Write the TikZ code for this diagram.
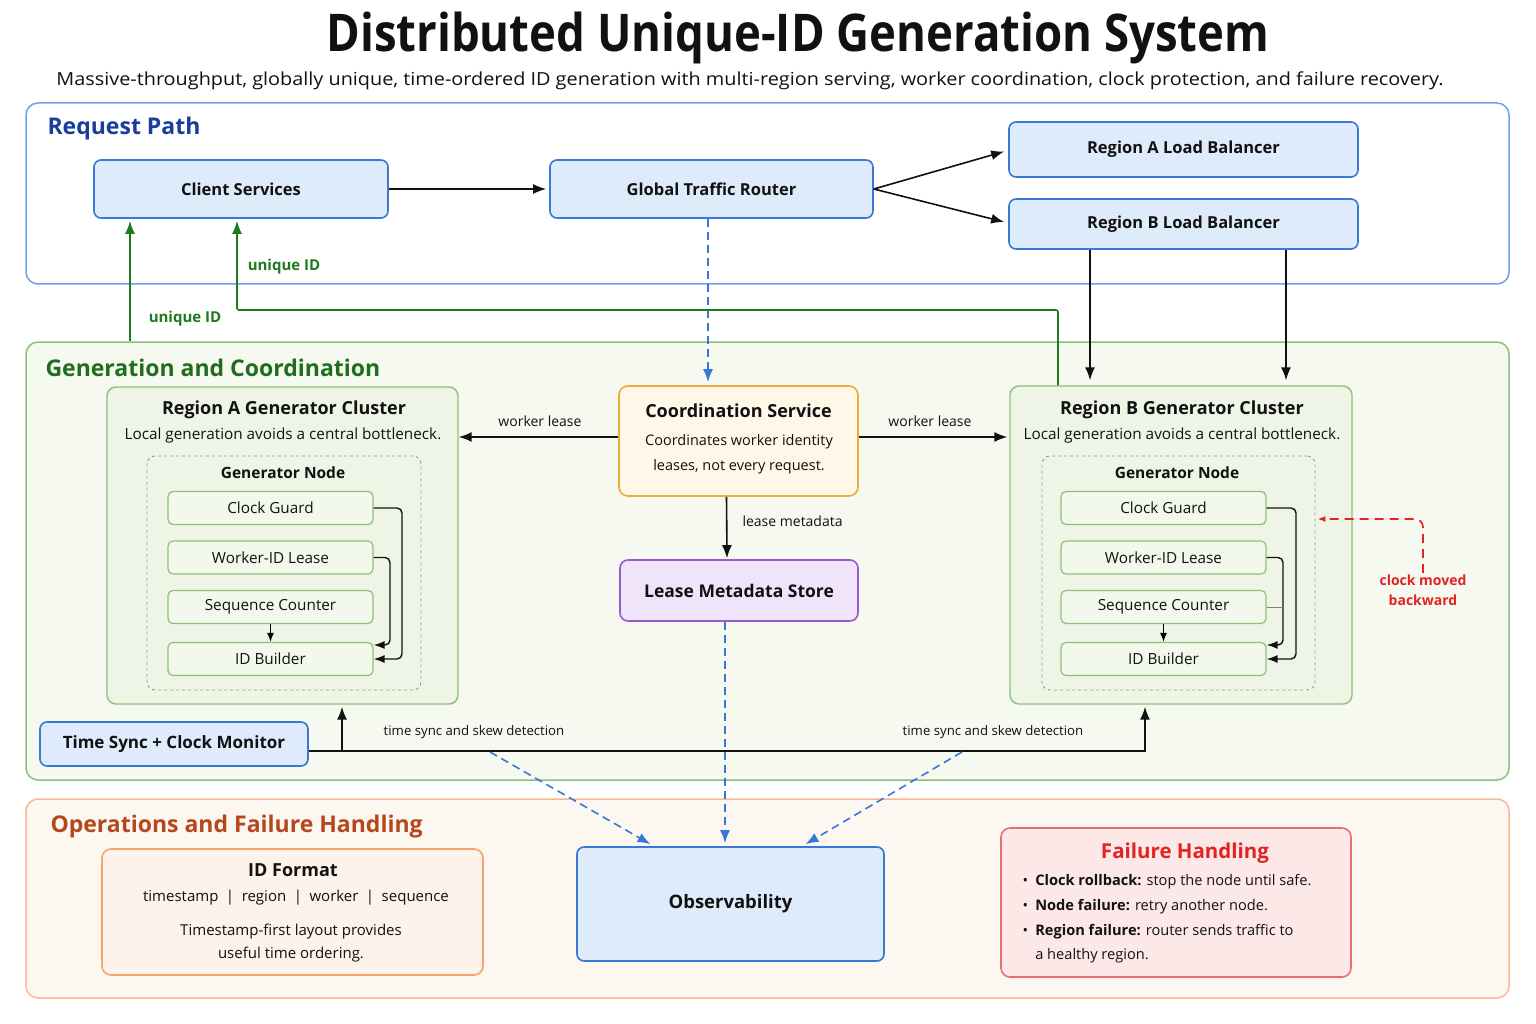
\documentclass[tikz,border=0pt]{standalone}
\usepackage{fontspec}
\setmainfont{Open Sans}
\usetikzlibrary{arrows.meta,calc}
\definecolor{bblue}{HTML}{3A78D6}
\definecolor{bfill}{HTML}{DEEBFB}
\definecolor{lblue}{HTML}{6F9FEA}
\definecolor{dblue}{HTML}{1A3D9C}
\definecolor{lgreen}{HTML}{8CC07A}
\definecolor{gfill}{HTML}{F5F9F0}
\definecolor{cfill}{HTML}{EEF5E7}
\definecolor{ifill}{HTML}{F2F8EC}
\definecolor{dgreen}{HTML}{1F6D1F}
\definecolor{agreen}{HTML}{1E7A1E}
\definecolor{oborder}{HTML}{F0A93A}
\definecolor{ofill}{HTML}{FFF7E8}
\definecolor{pborder}{HTML}{9B59D0}
\definecolor{pfill}{HTML}{F0E4FB}
\definecolor{opsborder}{HTML}{F7B994}
\definecolor{opsfill}{HTML}{FDF7F2}
\definecolor{idborder}{HTML}{F4A46A}
\definecolor{idfill}{HTML}{FDF3EA}
\definecolor{fborder}{HTML}{E8716C}
\definecolor{ffill}{HTML}{FDE8E8}
\definecolor{fred}{HTML}{E32222}
\definecolor{opstext}{HTML}{B4471C}
\definecolor{ink}{HTML}{111111}
\begin{document}
\begin{tikzpicture}[x=1pt,y=-1pt,
  every node/.style={text=ink},
  lane/.style={draw, rounded corners=12pt, line width=1.5pt},
  lanelabel/.style={anchor=west, font=\fontsize{23}{28}\selectfont\bfseries},
  bluebox/.style={draw=bblue, fill=bfill, rounded corners=7pt, line width=1.6pt, font=\fontsize{16.5}{20}\selectfont\bfseries},
  cluster/.style={draw=lgreen, fill=cfill, rounded corners=9pt, line width=1.4pt},
  gnode/.style={draw=gray!80, dashed, rounded corners=8pt, line width=0.9pt},
  inner/.style={draw=lgreen, fill=ifill, rounded corners=5pt, line width=1.2pt, minimum width=205, minimum height=33, font=\fontsize{15.3}{18}\selectfont},
  arr/.style={-{Latex[length=13pt,width=10pt]}, line width=1.6pt, draw=ink},
  sarr/.style={-{Latex[length=11pt,width=8pt]}, line width=1.4pt, draw=ink},
  bdash/.style={-{Latex[length=13pt,width=10pt]}, line width=1.6pt, draw=bblue, dash pattern=on 8pt off 5pt},
  garr/.style={-{Latex[length=13pt,width=10pt]}, line width=1.6pt, draw=agreen},
  small/.style={font=\fontsize{13.2}{15}\selectfont},
  lbl/.style={font=\fontsize{14}{17}\selectfont},
]
\useasboundingbox (0,0) rectangle (1536,1024);
\fill[white] (0,0) rectangle (1536,1024);

% title
\node (title) at (798,38) {\resizebox{943pt}{\height}{\fontsize{52}{60}\selectfont\bfseries Distributed Unique-ID Generation System}};
\node (subtitle) at (750,81) {\resizebox{1387pt}{\height}{\fontsize{18}{22}\selectfont Massive-throughput, globally unique, time-ordered ID generation with multi-region serving, worker coordination, clock protection, and failure recovery.}};

% lanes
\node[lane, draw=lblue, fill=white, minimum width=1483, minimum height=181] (reqlane) at (767.5,193.5) {};
\node[lanelabel, text=dblue] (reqlbl) at (44,129) {Request Path};
\node[lane, draw=lgreen, fill=gfill, minimum width=1483, minimum height=438] (genlane) at (767.5,561) {};
\node[lanelabel, text=dgreen] (genlbl) at (42,368) {Generation and Coordination};
\node[lane, draw=opsborder, fill=opsfill, minimum width=1483, minimum height=199] (opslane) at (767.5,898.5) {};
\node[lanelabel, text=opstext] (opslbl) at (47,827) {Operations and Failure Handling};

% request path
\node[bluebox, minimum width=294, minimum height=58] (client) at (241,189) {Client Services};
\node[bluebox, minimum width=323, minimum height=58] (router) at (711.5,189) {Global Traffic Router};
\node[bluebox, minimum width=349, minimum height=55] (lbA) at (1183.5,149.5) {Region A Load Balancer};
\node[bluebox, minimum width=349, minimum height=50] (lbB) at (1183.5,224) {Region B Load Balancer};

\draw[arr] (client.east) -- ([xshift=-3pt]router.west);
\draw[arr] (router.east) -- ([xshift=-4pt,yshift=-2pt]lbA.west);
\draw[arr] (router.east) -- ([xshift=-4pt,yshift=2pt]lbB.west);

% clusters
\node[cluster, minimum width=351, minimum height=317] (clA) at (282.5,545.5) {};
\node[font=\fontsize{18}{22}\selectfont\bfseries] (clAt) at (284,410) {Region A Generator Cluster};
\node[font=\fontsize{15.3}{18}\selectfont] (clAs) at (283,436) {Local generation avoids a central bottleneck.};
\node[gnode, minimum width=274, minimum height=234] (gnA) at (284,573) {};
\node[font=\fontsize{15.5}{19}\selectfont\bfseries] (gnAt) at (283,473) {Generator Node};
\node[inner] (cgA) at (270.5,508) {Clock Guard};
\node[inner] (wlA) at (270.5,557.5) {Worker-ID Lease};
\node[inner] (scA) at (270.5,607) {Sequence Counter};
\node[inner] (idA) at (270.5,659) {ID Builder};
\draw[sarr, rounded corners=5pt] (cgA.east) -- (402,508) -- (402,659) -- (idA.east);
\draw[sarr, rounded corners=5pt] (wlA.east) -- (390,557.5) -- (390,645) -- ([yshift=14pt]idA.east);
\draw[-{Latex[length=9pt,width=7pt]}, line width=1.2pt] (scA.south) -- (idA.north);

\node[cluster, minimum width=342, minimum height=318] (clB) at (1181,545) {};
\node[font=\fontsize{18}{22}\selectfont\bfseries] (clBt) at (1182,410) {Region B Generator Cluster};
\node[font=\fontsize{15.3}{18}\selectfont] (clBs) at (1182,436) {Local generation avoids a central bottleneck.};
\node[gnode, minimum width=273, minimum height=234] (gnB) at (1178.5,573) {};
\node[font=\fontsize{15.5}{19}\selectfont\bfseries] (gnBt) at (1177,473) {Generator Node};
\node[inner] (cgB) at (1163.5,508) {Clock Guard};
\node[inner] (wlB) at (1163.5,557.5) {Worker-ID Lease};
\node[inner] (scB) at (1163.5,607) {Sequence Counter};
\node[inner] (idB) at (1163.5,659) {ID Builder};
\draw[sarr, rounded corners=5pt] (cgB.east) -- (1296,508) -- (1296,659) -- (idB.east);
\draw[sarr, rounded corners=5pt] (wlB.east) -- (1283,557.5) -- (1283,645) -- ([yshift=14pt]idB.east);
\draw[line width=0.6pt, draw=gray] (scB.east) -- (1283,607);
\draw[-{Latex[length=9pt,width=7pt]}, line width=1.2pt] (scB.south) -- (idB.north);

% coordination
\node[draw=oborder, fill=ofill, rounded corners=9pt, line width=1.6pt, minimum width=239, minimum height=110] (coord) at (738.5,441) {};
\node[font=\fontsize{18}{22}\selectfont\bfseries] (coordt) at (738.5,411) {Coordination Service};
\node[font=\fontsize{14.5}{25}\selectfont, align=center] (coords) at (739,454) {Coordinates worker identity\\leases, not every request.};
\node[draw=pborder, fill=pfill, rounded corners=8pt, line width=1.6pt, minimum width=238, minimum height=61, font=\fontsize{17.5}{21}\selectfont\bfseries] (store) at (739,590.5) {Lease Metadata Store};

\draw[arr] ([xshift=-12pt]coord.south) -- ([xshift=-12pt,yshift=1pt]store.north);
\node[lbl, anchor=west] (lmlbl) at (739,521) {lease metadata};
\draw[arr] (coord.west |- 0,437) -- (clA.east |- 0,437);
\node[lbl] (wl1) at (540,421) {worker lease};
\draw[arr] (coord.east |- 0,437) -- ([xshift=-2pt]clB.west |- 0,437);
\node[lbl] (wl2) at (930,421) {worker lease};

\draw[bdash] (router.south -| 708,0) -- ([yshift=3pt]coord.north -| 708,0);

% LB B to cluster B
\draw[arr] (lbB.south -| 1090,0) -- ([yshift=5pt]clB.north -| 1090,0);
\draw[arr] (lbB.south -| 1286,0) -- ([yshift=5pt]clB.north -| 1286,0);

% unique id arrows
\coordinate (u1) at (130,341);
\draw[garr] (u1) -- ([yshift=-2pt]client.south -| u1);
\node[font=\fontsize{15}{18}\selectfont\bfseries, text=agreen] (ulbl1) at (185,319) {unique ID};
\draw[garr, rounded corners=2pt] (clB.north -| 1058,0) -- (1058,310) -- (237,310) -- ([yshift=-2pt]client.south -| 237,0);
\node[font=\fontsize{15}{18}\selectfont\bfseries, text=agreen] (ulbl2) at (284,267) {unique ID};

% time sync
\node[bluebox, minimum width=268, minimum height=44, font=\fontsize{17}{20}\selectfont\bfseries] (tsync) at (174,744) {Time Sync + Clock Monitor};
\draw[arr] ([yshift=-7pt]tsync.east) -- (1145,751) -- ([yshift=-2pt]clB.south -| 1145,0);
\draw[arr] (342,751) -- ([yshift=-2pt]clA.south -| 342,0);
\node[small] (ts1) at (474,732) {time sync and skew detection};
\node[small] (ts2) at (993,732) {time sync and skew detection};
\coordinate (tsl) at (490,752);
\coordinate (tsr) at (962,752);

% operations
\node[draw=idborder, fill=idfill, rounded corners=9pt, line width=1.6pt, minimum width=381, minimum height=126] (idfmt) at (292.5,912) {};
\node[font=\fontsize{18}{21}\selectfont\bfseries] (idft) at (293,870) {ID Format};
\node[font=\fontsize{15}{18}\selectfont] (idfl) at (296,898) {timestamp\enspace|\enspace region\enspace|\enspace worker\enspace|\enspace sequence};
\node[font=\fontsize{15}{23.5}\selectfont, align=center] (idfd) at (291,943) {Timestamp-first layout provides\\useful time ordering.};

\node[bluebox, minimum width=307, minimum height=114, font=\fontsize{18.5}{22}\selectfont\bfseries] (obs) at (730.5,904) {Observability};
\draw[bdash] (tsl) -- ([xshift=-80pt,yshift=2pt]obs.north);
\draw[bdash] (tsr) -- ([xshift=75pt,yshift=2pt]obs.north);
\draw[bdash] ([xshift=-14pt]store.south) -- ([xshift=-5.5pt,yshift=3pt]obs.north);

\node[draw=fborder, fill=ffill, rounded corners=9pt, line width=1.6pt, minimum width=350, minimum height=149] (fail) at (1176,902.5) {};
\node[font=\fontsize{20.5}{25}\selectfont\bfseries, text=fred] (failt) at (1185,853) {Failure Handling};
\node[font=\fontsize{14.6}{24.7}\selectfont, align=left, anchor=north west] (failb) at (1019,871) {%
\textbullet\enspace\textbf{Clock rollback:} stop the node until safe.\\
\textbullet\enspace\textbf{Node failure:} retry another node.\\
\textbullet\enspace\textbf{Region failure:} router sends traffic to\\
\phantom{\textbullet\enspace}a healthy region.};

% clock moved backward
\node[font=\fontsize{14}{20}\selectfont\bfseries, text=fred, align=center] (cmb) at (1423,590) {clock moved\\backward};
\draw[-{Latex[length=8pt,width=6pt]}, line width=1.6pt, draw=fred, dash pattern=on 9pt off 6pt, rounded corners=8pt] ([yshift=-2pt]cmb.north) -- (1423,519) -- ([xshift=2pt]gnB.east |- 0,519);

\end{tikzpicture}
\end{document}
